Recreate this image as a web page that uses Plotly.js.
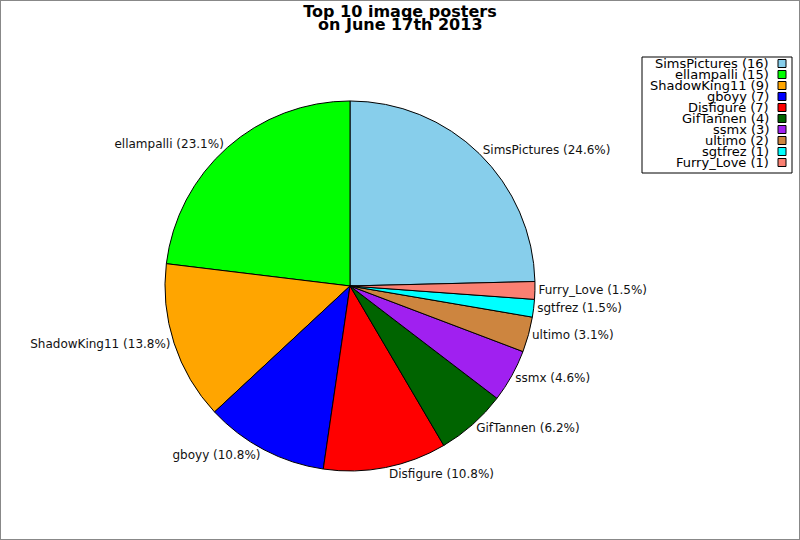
<!DOCTYPE html>
<html>
<head>
<meta charset="utf-8">
<script src="https://cdn.plot.ly/plotly-3.0.1.min.js"></script>
<style>
  html, body { margin: 0; padding: 0; background: #fff; }
  #chart { width: 800px; height: 540px; }
</style>
</head>
<body>
<div id="chart"></div>
<script>
const posters = ['SimsPictures', 'ellampalli', 'ShadowKing11', 'gboyy', 'Disfigure',
                 'GifTannen', 'ssmx', 'ultimo', 'sgtfrez', 'Furry_Love'];
const counts = [16, 15, 9, 7, 7, 4, 3, 2, 1, 1];
const colors = ['#87CEEB', '#00FF00', '#FFA500', '#0000FF', '#FF0000',
                '#006400', '#A020F0', '#CD853F', '#00FFFF', '#FA8072'];

const font = 'DejaVu Sans, Verdana, sans-serif';
const W = 800, H = 540;

const data = [{
    type: 'pie',
    labels: posters,
    values: counts,
    sort: false,
    direction: 'counterclockwise',
    rotation: 0,
    marker: {
        colors: colors,
        line: {color: 'black', width: 1}
    },
    texttemplate: '%{label} (%{percent:.1%})',
    textposition: 'outside',
    textfont: {family: font, size: 12, color: '#111'},
    hoverinfo: 'label+value+percent',
    domain: {x: [0.20625, 0.66875], y: [0.1278, 0.8130]}
}];

// legend drawn as a boxed list: label (count) right-aligned, colour square on the right
const rowTop = 63.5, rowStep = 11;
const legendNotes = posters.map((p, i) => ({
    xref: 'paper', yref: 'paper',
    x: 771 / W, xanchor: 'right',
    y: 1 - (rowTop + i * rowStep) / H, yanchor: 'middle',
    text: p + ' (' + counts[i] + ')',
    showarrow: false,
    font: {family: font, size: 13, color: 'black'}
}));
const legendSquares = colors.map((c, i) => ({
    type: 'rect', xref: 'paper', yref: 'paper',
    x0: 778 / W, x1: 786 / W,
    y0: 1 - (rowTop + i * rowStep - 4) / H,
    y1: 1 - (rowTop + i * rowStep + 4) / H,
    fillcolor: c,
    line: {color: 'black', width: 1}
}));

const layout = {
    width: W,
    height: H,
    margin: {l: 0, r: 0, t: 0, b: 0},
    paper_bgcolor: 'white',
    showlegend: false,
    title: {
        text: 'Top 10 image posters',
        font: {family: font, size: 16, color: 'black', weight: 'bold'},
        x: 0.5, xanchor: 'center',
        y: 1 - 11 / H, yanchor: 'middle'
    },
    annotations: [{
        xref: 'paper', yref: 'paper',
        x: 0.5, xanchor: 'center',
        y: 1 - 25 / H, yanchor: 'middle',
        text: '<b>on June 17th 2013</b>',
        showarrow: false,
        font: {family: font, size: 16, color: 'black'}
    }].concat(legendNotes),
    shapes: [{
        type: 'rect', xref: 'paper', yref: 'paper',
        x0: 0, x1: 1, y0: 0, y1: 1,
        line: {color: '#888', width: 2}
    }, {
        type: 'rect', xref: 'paper', yref: 'paper',
        x0: 642 / W, x1: 792 / W, y0: 1 - 57 / H, y1: 1 - 173 / H,
        line: {color: 'black', width: 1}
    }].concat(legendSquares)
};

Plotly.newPlot('chart', data, layout, {displayModeBar: false, staticPlot: true});
</script>
</body>
</html>
